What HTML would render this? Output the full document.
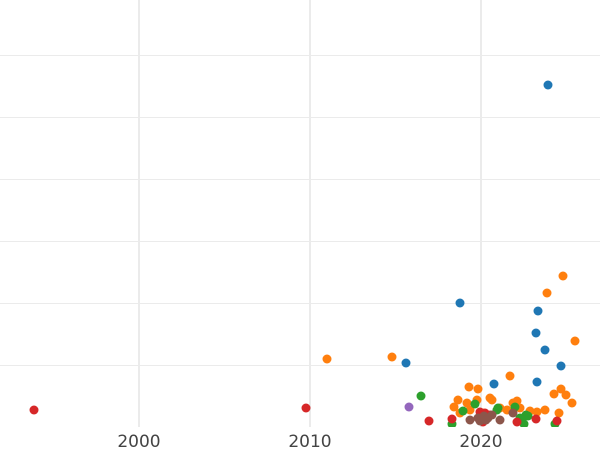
<!DOCTYPE html>
<html><head><meta charset="utf-8"><style>
html,body{margin:0;padding:0;background:#fff;width:600px;height:450px;overflow:hidden}
svg{display:block;font-family:"DejaVu Sans","Liberation Sans",sans-serif}
</style></head><body>
<svg width="600" height="450" viewBox="0 0 600 450">
<defs><clipPath id="c"><rect x="0" y="0" width="600" height="427"/></clipPath></defs>
<g stroke="#ebebeb" stroke-width="1">
<line x1="0" y1="55.5" x2="600" y2="55.5"/>
<line x1="0" y1="117.5" x2="600" y2="117.5"/>
<line x1="0" y1="179.5" x2="600" y2="179.5"/>
<line x1="0" y1="241.5" x2="600" y2="241.5"/>
<line x1="0" y1="303.5" x2="600" y2="303.5"/>
<line x1="0" y1="365.5" x2="600" y2="365.5"/>
</g>
<g stroke="#ebebeb" stroke-width="2">
<line x1="139" y1="0" x2="139" y2="427"/>
<line x1="310" y1="0" x2="310" y2="427"/>
<line x1="481" y1="0" x2="481" y2="427"/>
</g>
<g clip-path="url(#c)">
<g fill="#ff7f0e">
<circle cx="327" cy="359" r="4.5"/><circle cx="392" cy="357" r="4.5"/><circle cx="563" cy="276" r="4.5"/><circle cx="547" cy="293" r="4.5"/><circle cx="575" cy="341" r="4.5"/><circle cx="510" cy="376" r="4.5"/><circle cx="469" cy="387" r="4.5"/><circle cx="478" cy="389" r="4.5"/><circle cx="561" cy="389" r="4.5"/><circle cx="554" cy="394" r="4.5"/><circle cx="566" cy="395" r="4.5"/><circle cx="458" cy="400" r="4.5"/><circle cx="467" cy="403" r="4.5"/><circle cx="490" cy="398" r="4.5"/><circle cx="477" cy="400" r="4.5"/><circle cx="572" cy="403" r="4.5"/><circle cx="454" cy="407" r="4.5"/><circle cx="513" cy="403" r="4.5"/><circle cx="517" cy="401" r="4.5"/><circle cx="507" cy="410" r="4.5"/><circle cx="545" cy="410" r="4.5"/><circle cx="537" cy="412" r="4.5"/><circle cx="530" cy="411" r="4.5"/><circle cx="559" cy="413" r="4.5"/><circle cx="460" cy="413" r="4.5"/><circle cx="470" cy="410" r="4.5"/><circle cx="483" cy="413" r="4.5"/><circle cx="500" cy="408" r="4.5"/><circle cx="520" cy="408" r="4.5"/><circle cx="492" cy="400" r="4.5"/>
</g>
<g fill="#1f77b4">
<circle cx="548" cy="85" r="4.5"/><circle cx="460" cy="303" r="4.5"/><circle cx="538" cy="311" r="4.5"/><circle cx="536" cy="333" r="4.5"/><circle cx="545" cy="350" r="4.5"/><circle cx="561" cy="366" r="4.5"/><circle cx="406" cy="363" r="4.5"/><circle cx="494" cy="384" r="4.5"/><circle cx="537" cy="382" r="4.5"/>
</g>
<g fill="#2ca02c">
<circle cx="421" cy="396" r="4.5"/><circle cx="475" cy="404" r="4.5"/><circle cx="463" cy="411" r="4.5"/><circle cx="498" cy="408" r="4.5"/><circle cx="515" cy="407" r="4.5"/><circle cx="526" cy="415" r="4.5"/><circle cx="520" cy="418" r="4.5"/><circle cx="452" cy="424" r="4.5"/><circle cx="497" cy="410" r="4.5"/><circle cx="522" cy="421" r="4.5"/><circle cx="555" cy="424" r="4.5"/><circle cx="528" cy="416" r="4.5"/><circle cx="524" cy="424" r="4.5"/>
</g>
<circle cx="409" cy="407" r="4.5" fill="#9467bd"/>
<g fill="#d62728">
<circle cx="34" cy="410" r="4.5"/><circle cx="306" cy="408" r="4.5"/><circle cx="429" cy="421" r="4.5"/><circle cx="452" cy="419" r="4.5"/><circle cx="480" cy="412" r="4.5"/><circle cx="485" cy="413" r="4.5"/><circle cx="483" cy="422" r="4.5"/><circle cx="517" cy="422" r="4.5"/><circle cx="536" cy="419" r="4.5"/><circle cx="557" cy="421" r="4.5"/><circle cx="490" cy="415" r="4.5"/>
</g>
<g fill="#8c564b">
<circle cx="470" cy="420" r="4.5"/><circle cx="478" cy="418" r="4.5"/><circle cx="484" cy="416" r="4.5"/><circle cx="488" cy="418" r="4.5"/><circle cx="492" cy="415" r="4.5"/><circle cx="500" cy="420" r="4.5"/><circle cx="513" cy="413" r="4.5"/><circle cx="480" cy="421" r="4.5"/><circle cx="486" cy="420" r="4.5"/>
</g>
</g>
<g fill="#444" font-size="17" text-anchor="middle">
<text x="139" y="447">2000</text>
<text x="310" y="447">2010</text>
<text x="481" y="447">2020</text>
</g>
</svg>
</body></html>
